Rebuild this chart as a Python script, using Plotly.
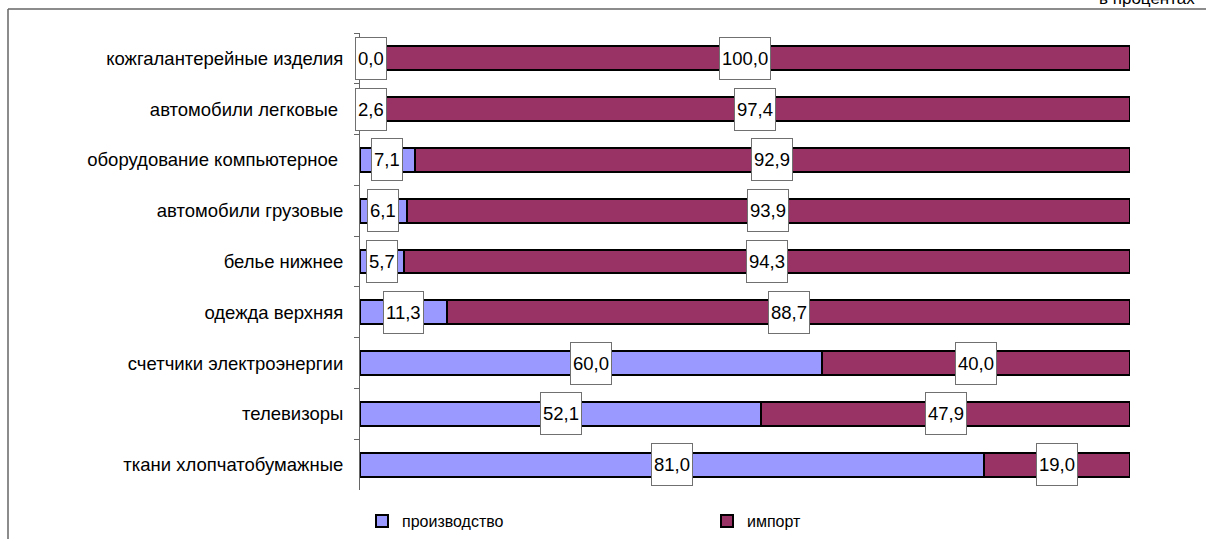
import plotly.graph_objects as go

categories = [
    "кожгалантерейные изделия",
    "автомобили легковые\u00a0",
    "оборудование компьютерное\u00a0",
    "автомобили грузовые",
    "белье нижнее",
    "одежда верхняя",
    "счетчики электроэнергии",
    "телевизоры",
    "ткани хлопчатобумажные",
]
production = [0.0, 2.6, 7.1, 6.1, 5.7, 11.3, 60.0, 52.1, 81.0]
imports = [100.0, 97.4, 92.9, 93.9, 94.3, 88.7, 40.0, 47.9, 19.0]
series_names = ["производство", "импорт"]
unit_note = "в процентах"

FONT = "Arial, 'Liberation Sans', sans-serif"
C_PROD = "#9999FF"
C_IMP = "#993366"

W, H = 1206, 539
ML, MR, MT, MB = 360, 76, 33, 49
PW = W - ML - MR
PH = H - MT - MB


def px_to_paper_x(px):
    return (px - ML) / PW


def px_to_paper_y(py):
    return (H - MB - py) / PH


fig = go.Figure()
fig.add_trace(go.Bar(
    y=categories, x=production, orientation="h", name=series_names[0],
    marker=dict(color=C_PROD, line=dict(color="#000000", width=2)),
))
fig.add_trace(go.Bar(
    y=categories, x=imports, orientation="h", name=series_names[1],
    marker=dict(color=C_IMP, line=dict(color="#000000", width=2)),
))


def fmt(v):
    return f"{v:.1f}".replace(".", ",")


annotations = []
for cat, p, m in zip(categories, production, imports):
    if p < 3.5:
        annotations.append(dict(x=0, y=cat, xref="x", yref="y", text=fmt(p),
                                xanchor="left", xshift=-5))
    else:
        annotations.append(dict(x=p / 2, y=cat, xref="x", yref="y", text=fmt(p),
                                xanchor="center"))
    annotations.append(dict(x=p + m / 2, y=cat, xref="x", yref="y", text=fmt(m),
                            xanchor="center"))

for a in annotations:
    a.update(showarrow=False, yanchor="middle", bgcolor="#FFFFFF",
             bordercolor="#707070", borderwidth=1, borderpad=2, height=37,
             font=dict(family=FONT, size=18.5, color="#000000"))

annotations.append(dict(
    x=px_to_paper_x(1097), y=px_to_paper_y(10), xref="paper", yref="paper",
    text=unit_note, showarrow=False, xanchor="left", yanchor="bottom",
    font=dict(family=FONT, size=17, color="#000000"),
))

shapes = [
    dict(type="line", xref="paper", yref="paper",
         x0=px_to_paper_x(8), x1=px_to_paper_x(1220),
         y0=px_to_paper_y(9), y1=px_to_paper_y(9),
         line=dict(color="#666666", width=1.5)),
    dict(type="line", xref="paper", yref="paper",
         x0=px_to_paper_x(8), x1=px_to_paper_x(8),
         y0=px_to_paper_y(9), y1=px_to_paper_y(560),
         line=dict(color="#666666", width=1.5)),
]

fig.update_layout(
    width=W, height=H,
    margin=dict(l=ML, r=MR, t=MT, b=MB, pad=0, autoexpand=False),
    barmode="stack", bargap=0.53,
    paper_bgcolor="#FFFFFF", plot_bgcolor="#FFFFFF",
    font=dict(family=FONT, size=18.5, color="#000000"),
    xaxis=dict(range=[0, 100], visible=False, showgrid=False, zeroline=False),
    yaxis=dict(type="category", range=[8.5, -0.5], showgrid=False, zeroline=False,
               showline=True, linecolor="#666666", linewidth=1,
               ticks="outside", tickson="boundaries", ticklen=5,
               tickcolor="#666666", tickwidth=1, ticklabelstandoff=12,
               tickfont=dict(family=FONT, size=18.5, color="#000000")),
    showlegend=True,
    legend=dict(orientation="h", x=px_to_paper_x(362), xanchor="left",
                y=px_to_paper_y(521), yanchor="middle",
                entrywidth=300, entrywidthmode="pixels",
                font=dict(family=FONT, size=16, color="#000000"),
                bgcolor="rgba(0,0,0,0)", traceorder="normal"),
    annotations=annotations,
    shapes=shapes,
)

fig.write_html(
    "out.html",
    config={"displayModeBar": False},
    post_script="document.body.style.margin='0px';document.body.style.overflow='hidden';",
)
